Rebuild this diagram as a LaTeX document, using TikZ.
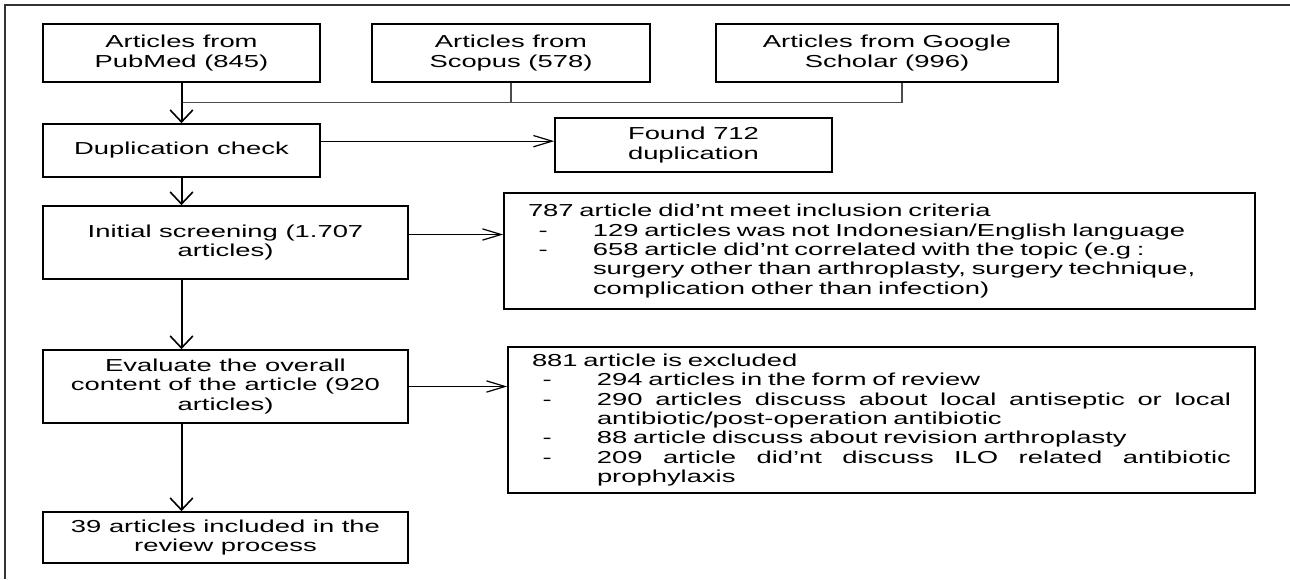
\documentclass[tikz,border=0pt]{standalone}
\usepackage{fontspec}
\setmainfont{Liberation Sans}[FakeStretch=1.58]
\usetikzlibrary{positioning,calc,arrows.meta}

\newcommand{\dashitem}{\makebox[48.75pt][l]{\hspace*{8pt}-}}
\newcommand{\contline}{\hspace*{48.75pt}}
\newcommand{\justline}[1]{\makebox[475.5pt][l]{#1}}

\begin{document}
\begin{tikzpicture}[x=0.75pt, y=-0.75pt]
% Define styles
\tikzstyle{box} = [rectangle, draw, line width=1.3pt, align=center, inner sep=0pt, font=\fontsize{13}{14.8}\selectfont]
\tikzstyle{listbox} = [rectangle, draw, line width=1.3pt, align=left, inner xsep=18pt, inner ysep=0pt, font=\fontsize{13}{14.6}\selectfont]
\tikzstyle{varrow} = [line width=1.5pt, -{Straight Barb[length=9pt, width=17pt, line width=1.2pt]}]
\tikzstyle{harrow} = [line width=0.9pt, -{Straight Barb[length=14pt, width=8.5pt]}]
\tikzstyle{link} = [line width=0.8pt, black!70]

\useasboundingbox (0,0) rectangle (1290,579);

% Outer frame
\draw[line width=1pt, black!80] (5,579) -- (5,5) -- (1290,5);

% Sources
\node[box, minimum width=207.75pt, minimum height=43.5pt] (pubmed) at (181.5,53) {Articles from\\PubMed (845)};
\node[box, minimum width=208.5pt, minimum height=43.5pt] (scopus) at (511,53) {Articles from\\Scopus (578)};
\node[box, minimum width=256.5pt, minimum height=43.5pt] (google) at (887,53) {Articles from Google\\Scholar (996)};

% Screening steps
\node[box, minimum width=207.75pt, minimum height=39.75pt] (dupcheck) at (181.5,150.5) {Duplication check};
\node[box, minimum width=207.75pt, minimum height=40.5pt] (found) at (693.5,145) {Found 712\\duplication};
\node[box, minimum width=273.75pt, minimum height=54.75pt] (screen) at (225.5,242.5) {Initial screening (1.707\\articles)};
\node[box, minimum width=273.75pt, minimum height=54.75pt] (evaluate) at (225.5,386.5) {Evaluate the overall\\content of the article (920\\articles)};
\node[box, minimum width=273.75pt, minimum height=38.25pt] (included) at (225.5,537.5) {39 articles included in the\\review process};

% Exclusions
\node[listbox, text width=527.25pt, minimum height=87pt] (criteria) at (879.5,251) {787 article did’nt meet inclusion criteria\\
\dashitem 129 articles was not Indonesian/English language\\
\dashitem 658 article did’nt correlated with the topic (e.g :\\
\contline surgery other than arthroplasty, surgery technique,\\
\contline complication other than infection)};
\node[listbox, text width=524.25pt, minimum height=109.5pt] (excluded) at (881.5,420) {881 article is excluded\\
\dashitem 294 articles in the form of review\\
\dashitem\justline{290\hfill articles\hfill discuss\hfill about\hfill local\hfill antiseptic\hfill or\hfill local}\\
\contline antibiotic/post-operation antibiotic\\
\dashitem 88 article discuss about revision arthroplasty\\
\dashitem\justline{209\hfill article\hfill did’nt\hfill discuss\hfill ILO\hfill related\hfill antibiotic}\\
\contline prophylaxis};

% Connections
\coordinate (merge) at ($(pubmed.south)+(0,20)$);
\coordinate (gdrop) at ($(google.south)+(15,0)$);
\draw[link] (scopus.south) -- (scopus.south |- merge);
\draw[link] (gdrop) -- (gdrop |- merge) -- (merge);
\draw[varrow] (pubmed) -- (dupcheck);
\draw[harrow] ([yshift=7pt]dupcheck.east) -- ([yshift=7pt]dupcheck.east -| found.west);
\draw[varrow] (dupcheck.south) -- (dupcheck.south |- screen.north);
\draw[harrow] ([yshift=6pt]screen.east) -- ([yshift=6pt]screen.east -| criteria.west);
\draw[varrow] (screen.south -| dupcheck.south) -- (dupcheck.south |- evaluate.north);
\draw[harrow] (evaluate.east) -- (evaluate.east -| excluded.west);
\draw[varrow] (evaluate.south -| dupcheck.south) -- (dupcheck.south |- included.north);

\end{tikzpicture}
\end{document}
